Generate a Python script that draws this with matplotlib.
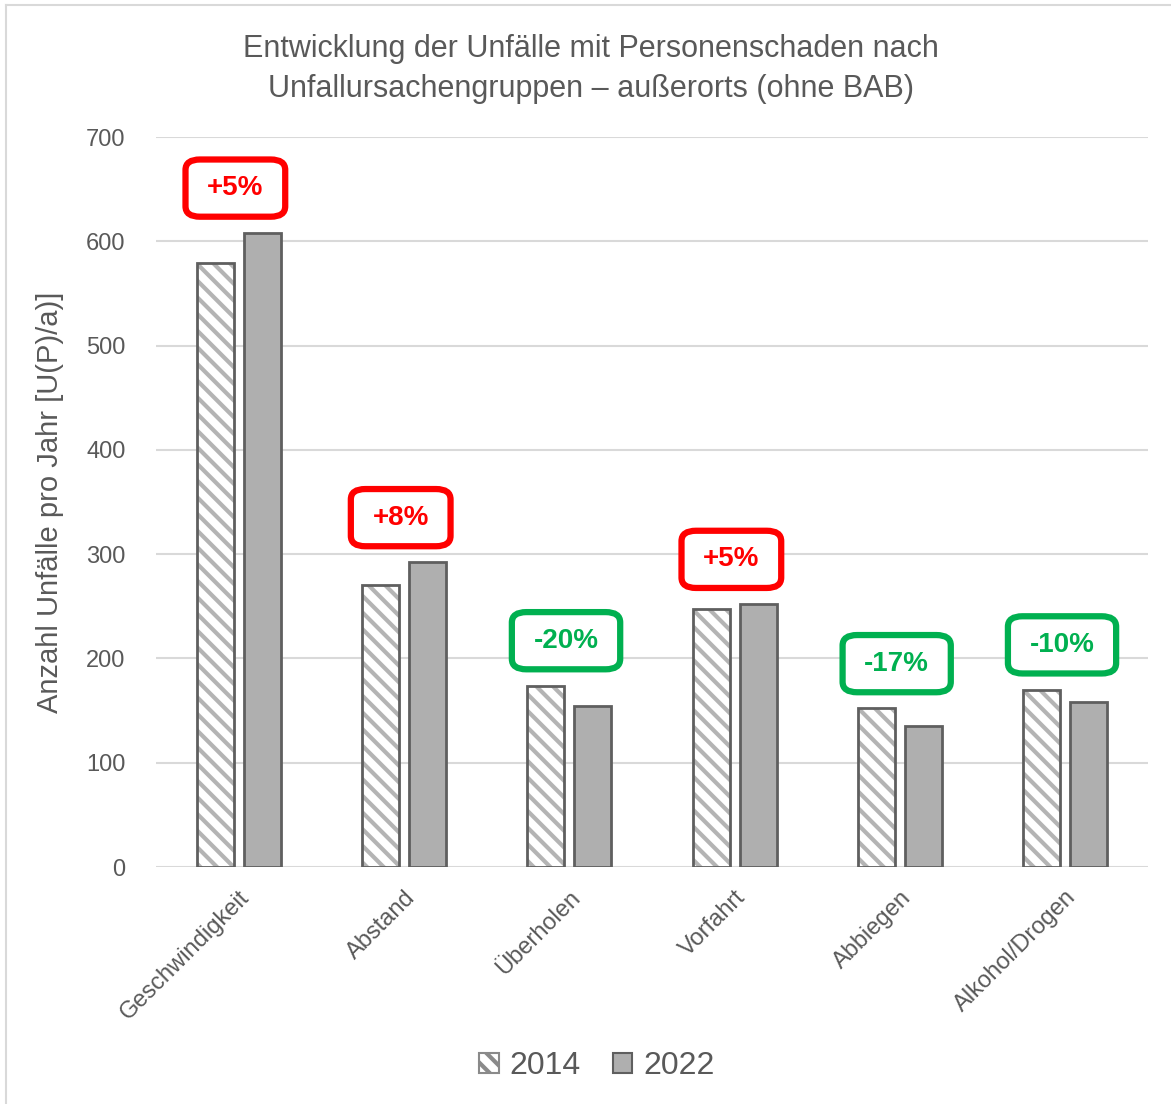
import matplotlib
matplotlib.use("Agg")
import matplotlib.pyplot as plt
from matplotlib.patches import Patch
from matplotlib.lines import Line2D
import numpy as np

plt.rcParams["font.family"] = ["Liberation Sans Narrow", "Liberation Sans", "DejaVu Sans"]
plt.rcParams["hatch.linewidth"] = 3.0

# ----------------------------------------------------------------------
# data
# ----------------------------------------------------------------------
categories = ["Geschwindigkeit", "Abstand", "Überholen", "Vorfahrt",
              "Abbiegen", "Alkohol/Drogen"]
values_2014 = [579, 270, 174, 247, 152, 170]
values_2022 = [608, 292, 154, 252, 135, 158]
changes = ["+5%", "+8%", "-20%", "+5%", "-17%", "-10%"]

TITLE = ("Entwicklung der Unfälle mit Personenschaden nach\n"
         "Unfallursachengruppen – außerorts (ohne BAB)")
YLABEL = "Anzahl Unfälle pro Jahr [U(P)/a)]"

TEXT_GREY = "#595959"
EDGE = "#5f5f5f"
FILL_2022 = "#afafaf"
HATCH_GREY = "#b4b4b4"
RED = "#ff0000"
GREEN = "#00b050"

fig = plt.figure(figsize=(11.71, 11.04), dpi=100)
ax = fig.add_axes([156 / 1171, 1 - 867 / 1104, (1148 - 156) / 1171, (867 - 137) / 1104])

x = np.arange(len(categories))
w = 0.224
off = 0.142

# 2014: hatched fill, then dark outline on top
ax.bar(x - off, values_2014, width=w, color="white", edgecolor=HATCH_GREY,
       hatch="\\\\", linewidth=0, zorder=3)
ax.bar(x - off, values_2014, width=w, fill=False, edgecolor=EDGE,
       linewidth=2, zorder=4)
ax.bar(x + off, values_2022, width=w, color=FILL_2022, edgecolor=EDGE,
       linewidth=2, zorder=4)

# change labels in rounded boxes
for xi, v1, v2, lab in zip(x, values_2014, values_2022, changes):
    col = RED if lab.startswith("+") else GREEN
    t = ax.text(xi - 0.02, max(v1, v2) + 43, lab, ha="center", va="center",
                fontsize=20, fontweight="bold", color=col, zorder=6,
                bbox=dict(boxstyle="round,pad=0.78,rounding_size=0.52",
                          fc="white", ec=col, lw=4.5))
    t.get_bbox_patch().set_mutation_aspect(0.72)

ax.set_xlim(-0.5, len(categories) - 0.5)
ax.set_ylim(0, 700)
ax.set_yticks(range(0, 701, 100))
ax.yaxis.grid(True, color="#d9d9d9", linewidth=1.5, zorder=0)
ax.set_axisbelow(True)
for s in ax.spines.values():
    s.set_visible(False)
ax.tick_params(axis="both", length=0, labelsize=17, labelcolor=TEXT_GREY)
ax.tick_params(axis="y", pad=22)
ax.set_xticks(x)
ax.set_xticklabels(categories, rotation=45, ha="right", rotation_mode="anchor",
                   fontsize=17)
ax.tick_params(axis="x", pad=14)

ax.set_ylabel(YLABEL, fontsize=21, color=TEXT_GREY, labelpad=16)

fig.text(0.505, 1 - 69 / 1104, TITLE, ha="center", va="center",
         fontsize=22, color=TEXT_GREY, linespacing=1.4)

# legend
handles = [
    Patch(facecolor="white", edgecolor="#8a8a8a", hatch="\\\\", linewidth=1.5),
    Patch(facecolor=FILL_2022, edgecolor=EDGE, linewidth=1.5),
]
leg = fig.legend(handles, ["2014", "2022"], loc="center",
                 bbox_to_anchor=(597 / 1171, 1 - 1066 / 1104), ncol=2,
                 frameon=False, fontsize=23, handlelength=0.6,
                 handleheight=0.6, handletextpad=0.35, columnspacing=1.0)
for t in leg.get_texts():
    t.set_color(TEXT_GREY)

# chart border (left and top visible)
fig.add_artist(Line2D([6 / 1171, 6 / 1171], [0, 1 - 5 / 1104],
                      transform=fig.transFigure, color="#d9d9d9", lw=1.5))
fig.add_artist(Line2D([6 / 1171, 1], [1 - 5 / 1104, 1 - 5 / 1104],
                      transform=fig.transFigure, color="#d9d9d9", lw=1.5))

fig.savefig("out.png", dpi=100)
